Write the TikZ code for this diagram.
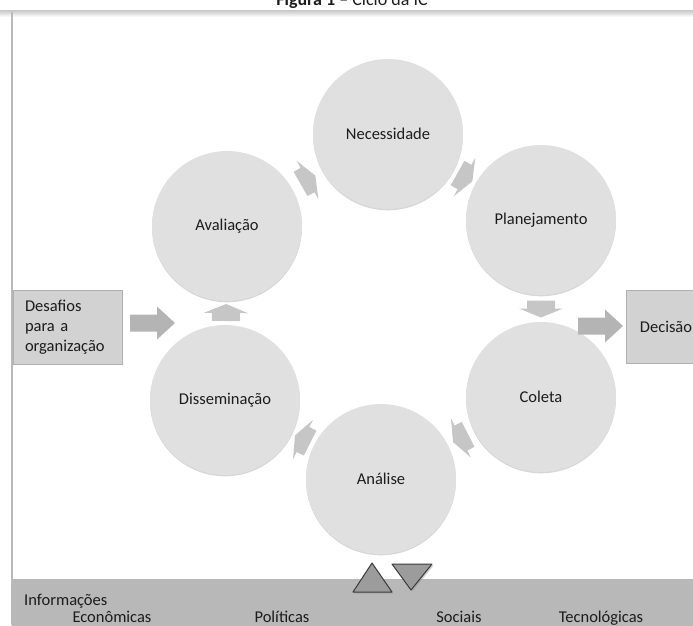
\documentclass[tikz,border=0pt]{standalone}
\usepackage{fontspec}
\setmainfont{Carlito}
\usetikzlibrary{shadows,calc}
\definecolor{circfill}{HTML}{E0E0E0}
\definecolor{arrfill}{HTML}{C6C6C6}
\definecolor{bigarr}{HTML}{B4B4B4}
\definecolor{boxfill}{HTML}{D2D2D2}
\definecolor{boxline}{HTML}{B0B0B0}
\definecolor{bandfill}{HTML}{B8B8B8}
\definecolor{txt}{HTML}{1C1C1C}
\definecolor{trifill}{HTML}{9C9C9C}
\definecolor{triline}{HTML}{3A3A3A}
\tikzset{
  cyclearrow/.pic={\fill[arrfill] (-8,-14) -- (0,-14) -- (0,-22) -- (9,0) -- (0,22) -- (0,14) -- (-8,14) -- cycle;},
  bigarrow/.pic={\fill[bigarr] (-22,-8.5) -- (5,-8.5) -- (5,-16.5) -- (23,0) -- (5,16.5) -- (5,8.5) -- (-22,8.5) -- cycle;}
}
\begin{document}
\begin{tikzpicture}[x=1pt,y=-1pt,
  every node/.style={font=\fontsize{16.5}{20}\selectfont, text=txt},
  stage/.style={circle, fill=circfill, minimum size=150pt, inner sep=0pt,
    drop shadow={shadow xshift=0pt, shadow yshift=-1.3pt, fill=black!35, opacity=0.45}},
  infobox/.style={rectangle, fill=boxfill, draw=boxline, line width=0.6pt},
  bandtext/.style={inner sep=0pt, anchor=base}
]
\useasboundingbox (0,0) rectangle (693,625);
% title (partly cut at top)
\node[anchor=base, inner sep=0pt, font=\fontsize{18}{20}\selectfont] (title) at (352,5) {\textbf{Figura 1} – Ciclo da IC};
% frame
\shade[top color=gray!45, bottom color=white] (0,10) rectangle (693,17);
\draw[gray!55, line width=1.2pt] (12,12) -- (12,625);
% bottom band
\fill[bandfill] (12,579) rectangle (700,630);
\node[bandtext, anchor=base west] (info) at (24,605) {Informações};
\node[bandtext] (eco) at (112,622) {Econômicas};
\node[bandtext] (pol) at (282,622) {Políticas};
\node[bandtext] (soc) at (459,622) {Sociais};
\node[bandtext] (tec) at (601,622) {Tecnológicas};
% triangles
\fill[black!40, opacity=0.5] (373.5,564.5) -- (393.5,593.5) -- (354.5,593.5) -- cycle;
\fill[black!40, opacity=0.5] (393.5,565.5) -- (433.5,565.5) -- (412.5,591.5) -- cycle;
\filldraw[fill=trifill, draw=triline, line width=1pt, line join=round] (372,563) -- (392,592) -- (353,592) -- cycle;
\filldraw[fill=trifill, draw=triline, line width=1pt, line join=round] (392,564) -- (432,564) -- (411,590) -- cycle;
% stages
\node[stage] (nec) at (388,134) {Necessidade};
\node[stage] (plan) at (541,220) {Planejamento};
\node[stage] (col) at (541,397) {Coleta};
\node[stage] (ana) at (381,479) {Análise};
\node[stage] (dis) at (225,400) {Disseminação};
\node[stage] (aval) at (227,226) {Avaliação};
% cycle arrows
\pic[rotate=29.7] at ($(aval)!0.5!(nec)$) {cyclearrow};
\pic[rotate=-29.3] at ($(nec)!0.5!(plan)$) {cyclearrow};
\pic[rotate=-90] at ($(plan)!0.5!(col)$) {cyclearrow};
\pic[rotate=-152.9] at ($(col)!0.5!(ana)$) {cyclearrow};
\pic[rotate=153.1] at ($(ana)!0.5!(dis)$) {cyclearrow};
\pic[rotate=89.3] at ($(dis)!0.5!(aval)$) {cyclearrow};
% side boxes
\node[infobox, minimum width=109pt, minimum height=74pt, text width=85pt, inner xsep=12pt, align=left] (desafios) at (67.5,327) {Desafios\\para a\\organização};
\node[infobox, minimum width=80pt, minimum height=73pt] (decisao) at (666,326.5) {Decisão};
\pic at (152,323) {bigarrow};
\pic at (600,326) {bigarrow};
\end{tikzpicture}
\end{document}
